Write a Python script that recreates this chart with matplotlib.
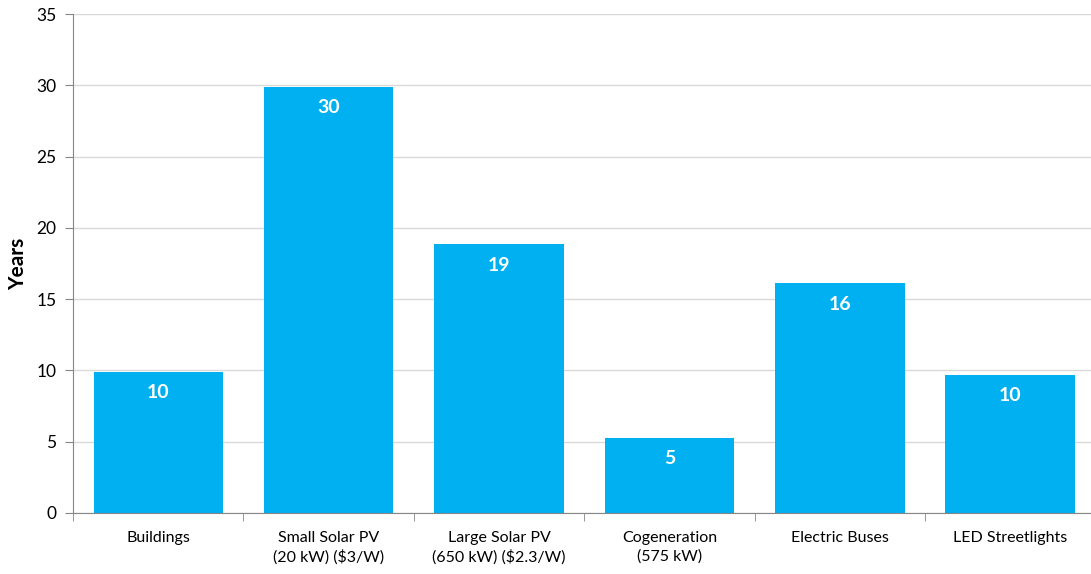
import numpy as np
import matplotlib.pyplot as plt

# payback period per measure
categories = ["Buildings", "Small Solar PV\n(20 kW) ($3/W)", "Large Solar PV\n(650 kW) ($2.3/W)",
              "Cogeneration\n(575 kW)", "Electric Buses", "LED Streetlights"]
years = [9.9, 29.9, 18.85, 5.25, 16.1, 9.7]

plt.rcParams['font.family'] = ['Lato', 'DejaVu Sans']

fig = plt.figure(figsize=(10.91, 5.74), dpi=100)
ax = fig.add_axes([0.067, 0.1063, 0.937, 0.8693])

x = np.arange(len(categories))
bars = ax.bar(x, years, width=0.76, color="#00b0f0", zorder=2)

for b, v in zip(bars, years):
    ax.annotate(f"{v:.0f}", (b.get_x() + b.get_width() / 2, v), xytext=(0, -15),
                textcoords="offset points", ha="center", va="center",
                color="white", fontsize=14, fontweight="bold")

ax.set_ylim(0, 35)
ax.set_xlim(-0.5, 5.5)
ax.set_yticks(range(0, 36, 5))
ax.tick_params(axis="y", labelsize=12.5, length=6, color="#868686", pad=6)
ax.yaxis.grid(True, color="#d9d9d9", linewidth=1, zorder=0)

# category labels centred, tick marks on the boundaries
ax.set_xticks(x)
ax.set_xticklabels(categories, fontsize=11.5, linespacing=1.35)
ax.tick_params(axis="x", length=0, pad=13)
ax.set_xticks(np.arange(-0.5, 6, 1), minor=True)
ax.tick_params(axis="x", which="minor", length=6, color="#868686")

for s in ["top", "right"]:
    ax.spines[s].set_visible(False)
for s in ["left", "bottom"]:
    ax.spines[s].set_color("#868686")

ax.set_ylabel("Years", fontsize=15, fontweight="bold", labelpad=6)

fig.savefig("out.png", dpi=100)
